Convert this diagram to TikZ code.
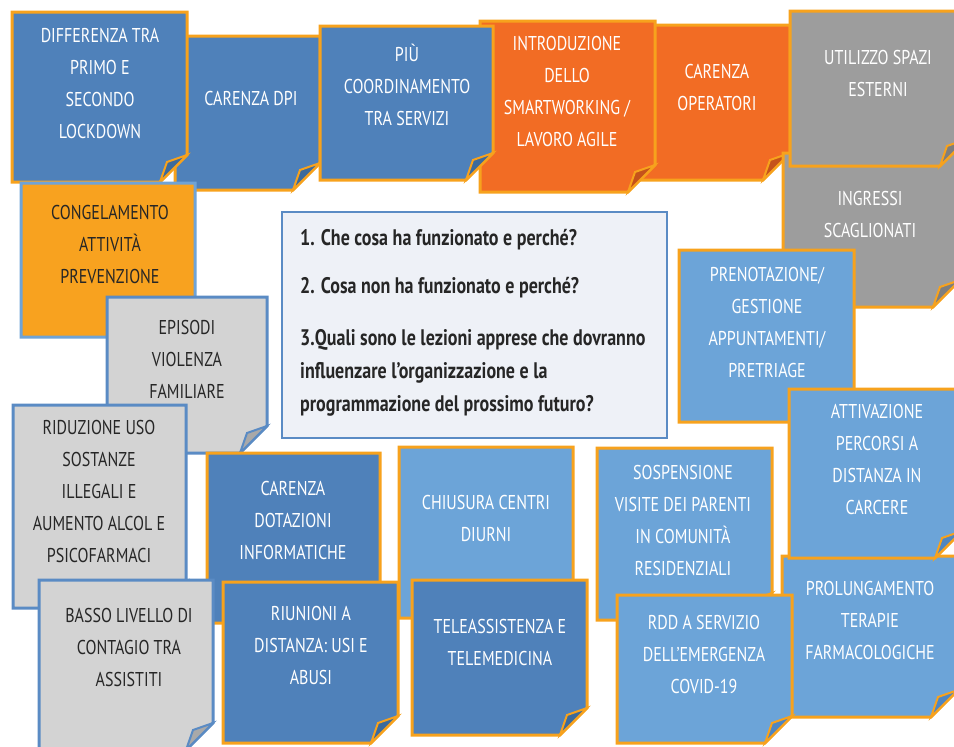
\documentclass[tikz,border=0pt]{standalone}
\usepackage{fontspec}
\setmainfont{PT Sans}[FakeStretch=0.8]
\usepackage{tikz}
\definecolor{edge}{HTML}{F7A21D}
\definecolor{edgeblue}{HTML}{5A8BC4}
\definecolor{edgesky}{HTML}{6FA3D6}
\definecolor{blu}{HTML}{4F81BA}
\definecolor{bluf}{HTML}{3C6A9C}
\definecolor{sky}{HTML}{6CA4D8}
\definecolor{skyf}{HTML}{4F86C2}
\definecolor{arancio}{HTML}{F26C24}
\definecolor{arancif}{HTML}{C5521B}
\definecolor{grigio}{HTML}{9D9D9D}
\definecolor{grigif}{HTML}{7E7E7E}
\definecolor{perla}{HTML}{D3D3D3}
\definecolor{perlaf}{HTML}{A9A9A9}
\definecolor{giallo}{HTML}{F8A21F}
\definecolor{qfill}{HTML}{EEF1F7}
\definecolor{scuro}{HTML}{262626}

% note with folded bottom-right corner: style, x1, y1, x2, y2 (pixel units)
\newcommand\postit[5]{%
  \filldraw[#1] (#2,#3) -- (#4,#3) -- (#4,#5-27) -- (#4-27,#5) -- (#2,#5) -- cycle;
  \filldraw[#1 fold] (#4,#5-27) -- (#4-20,#5-20) -- (#4-27,#5) -- cycle;}

\begin{document}
\begin{tikzpicture}[
  x=1pt, y=-1pt,
  line join=miter,
  blu/.style={fill=blu,draw=edge,line width=3pt},
  blu fold/.style={fill=bluf,draw=edge,line width=2pt},
  sky/.style={fill=sky,draw=edge,line width=3pt},
  sky fold/.style={fill=skyf,draw=edge,line width=2pt},
  ora/.style={fill=arancio,draw=edge,line width=3pt},
  ora fold/.style={fill=arancif,draw=edge,line width=2pt},
  gri/.style={fill=grigio,draw=edge,line width=3pt},
  gri fold/.style={fill=grigif,draw=edge,line width=2pt},
  per/.style={fill=perla,draw=edgeblue,line width=3pt},
  per fold/.style={fill=perlaf,draw=edgeblue,line width=2pt},
  gia/.style={fill=giallo,draw=edgesky,line width=3pt},
  gia fold/.style={fill=giallo!80!black,draw=edgesky,line width=2pt},
  wtxt/.style={anchor=north,align=center,inner sep=0pt,text=white,font=\fontsize{20}{32}\selectfont},
  dtxt/.style={wtxt,text=scuro},
  qbox/.style={fill=qfill,draw=edgeblue,line width=2.5pt},
  qtxt/.style={anchor=north west,align=left,inner sep=0pt,text=scuro,font=\bfseries\fontsize{22.5}{33}\selectfont},
]
\useasboundingbox (0,0) rectangle (954,747);

% top row
\postit{ora}{640}{25}{790}{180}
\node[wtxt] (operatori) at (717,64) {CARENZA\\OPERATORI};
\postit{ora}{480}{21}{655}{192}
\node[wtxt] (smart) at (567,36) {INTRODUZIONE\\DELLO\\SMARTWORKING /\\LAVORO AGILE};
\postit{blu}{175}{36}{320}{190}
\node[wtxt] (dpi) at (251,91) {CARENZA DPI};
\postit{blu}{12}{12}{187}{182}
\node[wtxt] (lockdown) at (100,28) {DIFFERENZA TRA\\PRIMO E\\SECONDO\\LOCKDOWN};
\postit{gia}{21}{183}{195}{337}
\node[dtxt] (congela) at (110,205) {CONGELAMENTO\\ATTIVITÀ\\PREVENZIONE};
\postit{blu}{320}{26}{493}{180}
\node[wtxt] (coord) at (407,44) {PIÙ\\COORDINAMENTO\\TRA SERVIZI};
\postit{gri}{783}{153}{960}{307}
\node[wtxt] (ingressi) at (870,191) {INGRESSI\\SCAGLIONATI};
\postit{gri}{790}{11}{967}{166}
\node[wtxt] (spazi) at (878,50) {UTILIZZO SPAZI\\ESTERNI};

% right column
\postit{sky}{679}{250}{854}{422}
\node[wtxt] (prenota) at (767,267) {PRENOTAZIONE/\\GESTIONE\\APPUNTAMENTI/\\PRETRIAGE};
\postit{sky}{782}{556}{958}{717}
\node[wtxt] (terapie) at (870,581) {PROLUNGAMENTO\\TERAPIE\\FARMACOLOGICHE};
\postit{sky}{789}{389}{962}{558}
\node[wtxt] (carcere) at (877,404) {ATTIVAZIONE\\PERCORSI A\\DISTANZA IN\\CARCERE};

% left column
\postit{per}{107}{297}{267}{453}
\node[dtxt] (violenza) at (187,320) {EPISODI\\VIOLENZA\\FAMILIARE};
\postit{per}{13}{405}{186}{608}
\node[dtxt] (sostanze) at (99,420) {RIDUZIONE USO\\SOSTANZE\\ILLEGALI E\\AUMENTO ALCOL E\\PSICOFARMACI};
\postit{blu}{207}{453}{380}{623}
\node[wtxt] (dotazioni) at (293,481) {CARENZA\\DOTAZIONI\\INFORMATICHE};
\postit{per}{39}{580}{213}{750}
\node[dtxt] (contagio) at (129,608) {BASSO LIVELLO DI\\CONTAGIO TRA\\ASSISTITI};

% bottom row
\postit{blu}{223}{582}{398}{743}
\node[wtxt] (riunioni) at (311,606) {RIUNIONI A\\DISTANZA: USI E\\ABUSI};
\postit{sky}{399}{447}{573}{618}
\node[wtxt] (diurni) at (486,495) {CHIUSURA CENTRI\\DIURNI};
\postit{blu}{412}{580}{587}{735}
\node[wtxt] (tele) at (500,619) {TELEASSISTENZA E\\TELEMEDICINA};
\postit{sky}{597}{448}{772}{620}
\node[wtxt] (visite) at (683,465) {SOSPENSIONE\\VISITE DEI PARENTI\\IN COMUNITÀ\\RESIDENZIALI};
\postit{sky}{617}{595}{792}{743}
\node[wtxt] (rdd) at (704,615) {RDD A SERVIZIO\\DELL’EMERGENZA\\COVID-19};

% questions
\draw[qbox] (282,212) rectangle (667,438);
\node[qtxt] (domande) at (300,229) {1. Che cosa ha funzionato e perché?\\[15pt]
  2. Cosa non ha funzionato e perché?\\[19pt]
  3.Quali sono le lezioni apprese che dovranno\\
  influenzare l’organizzazione e la\\
  programmazione del prossimo futuro?};
\end{tikzpicture}
\end{document}
